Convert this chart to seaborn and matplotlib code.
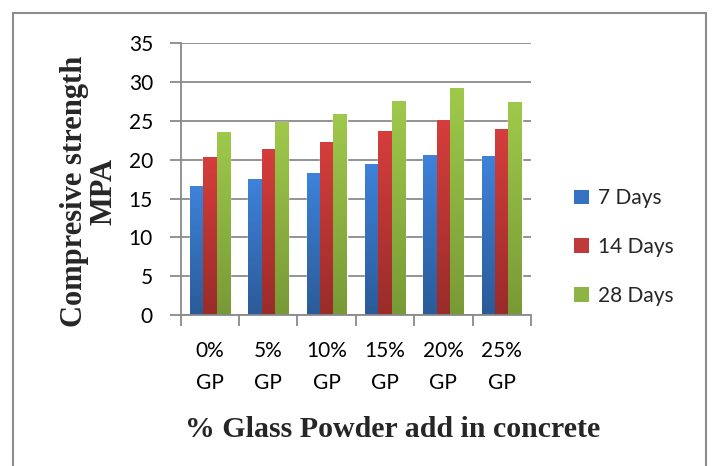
import numpy as np
import pandas as pd
import matplotlib
matplotlib.use("Agg")
import matplotlib.pyplot as plt
import seaborn as sns
from matplotlib.patches import Rectangle
from matplotlib.colors import LinearSegmentedColormap

# ---- data ----
categories = ["0%\nGP", "5%\nGP", "10%\nGP", "15%\nGP", "20%\nGP", "25%\nGP"]
series_names = ["7 Days", "14 Days", "28 Days"]
days7 = [16.6, 17.5, 18.3, 19.5, 20.6, 20.5]
days14 = [20.4, 21.4, 22.3, 23.7, 25.1, 24.0]
days28 = [23.6, 24.9, 25.9, 27.6, 29.3, 27.5]
yticks = [0, 5, 10, 15, 20, 25, 30, 35]

df = pd.DataFrame({
    "cat": categories * 3,
    "series": [series_names[0]] * 6 + [series_names[1]] * 6 + [series_names[2]] * 6,
    "value": days7 + days14 + days28,
})

mid_colors = ["#3672C2", "#BF3A38", "#8CB543"]
top_colors = ["#3E82DA", "#D53E3C", "#9FC94B"]
bot_colors = ["#2B5B98", "#992C2A", "#789A36"]

sns.set_theme(style="white")
plt.rcParams["font.family"] = ["Lato", "DejaVu Sans"]

fig = plt.figure(figsize=(7.12, 4.66), dpi=100)
ax = fig.add_axes([0.2538, 0.324, 0.4920, 0.583])

sns.barplot(data=df, x="cat", y="value", hue="series", palette=mid_colors,
            width=0.685, gap=0, ax=ax, saturation=1, legend=True, errorbar=None)

ax.set_ylim(0, 35)
ax.set_xlim(-0.5, len(categories) - 0.5)
ax.set_yticks(yticks)
ax.yaxis.grid(True, color="#8A8A8A", linewidth=1.3)
ax.set_axisbelow(True)
for s in ["top", "right"]:
    ax.spines[s].set_visible(False)
for s in ["left", "bottom"]:
    ax.spines[s].set_color("#8A8A8A")
    ax.spines[s].set_linewidth(1.3)

# gradient fill for bars
legend_obj = ax.get_legend()
bars = [p for p in ax.patches]
n = len(categories)
for i, p in enumerate(bars[:3 * n]):
    si = i // n
    cmap = LinearSegmentedColormap.from_list("g", [bot_colors[si], top_colors[si]])
    x0, y0 = p.get_x(), p.get_y()
    w, h = p.get_width(), p.get_height()
    grad = np.linspace(0, 1, 100).reshape(-1, 1)
    im = ax.imshow(grad, cmap=cmap, origin="lower", aspect="auto",
                   extent=[x0, x0 + w, y0, y0 + h], zorder=p.get_zorder() + 0.1)
    im.set_clip_path(p)
ax.set_xlim(-0.5, len(categories) - 0.5)
ax.set_ylim(0, 35)

# ticks
ax.tick_params(axis="y", length=8, width=1.3, color="#8A8A8A", pad=12,
               labelsize=15, labelcolor="black", left=True)
ax.set_xticks(range(n))
ax.set_xticklabels(categories, linespacing=1.75)
ax.tick_params(axis="x", which="major", length=0, pad=19, labelsize=15, labelcolor="black")
ax.set_xticks(np.arange(-0.5, n, 1.0), minor=True)
ax.tick_params(axis="x", which="minor", length=8, width=1.3, color="#8A8A8A", bottom=True)

ax.set_xlabel("% Glass Powder add in concrete", family="Liberation Serif",
              fontweight="bold", fontsize=21.5)
ax.xaxis.set_label_coords(0.606, -0.37)
ax.set_ylabel("Compresive strength\nMPA", family="Liberation Serif",
              fontweight="bold", fontsize=22, linespacing=1.0)
ax.yaxis.set_label_coords(-0.178, 0.455)

# legend
if legend_obj is not None:
    legend_obj.remove()
handles = [Rectangle((0, 0), 1, 1, facecolor=c, edgecolor="none") for c in mid_colors]
fig.legend(handles, series_names, loc="center left",
           bbox_to_anchor=(0.806, 0.470), frameon=False, fontsize=15,
           handlelength=0.72, handleheight=0.72, handletextpad=0.45,
           labelspacing=1.38, borderpad=0, borderaxespad=0)

# outer border
fig.patches.append(Rectangle((13 / 712, -0.05), (706 - 13) / 712, 1.05 - 13 / 466,
                             transform=fig.transFigure, fill=False,
                             edgecolor="#8C8C8C", linewidth=1.5))

fig.savefig("out.png", dpi=100)
